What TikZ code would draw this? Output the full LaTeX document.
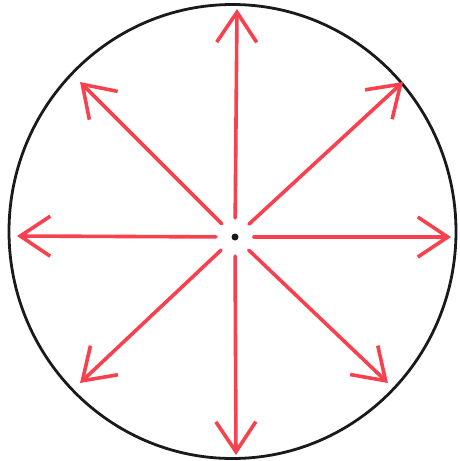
\documentclass[tikz,border=0pt]{standalone}
\usetikzlibrary{arrows.meta}
\definecolor{Ink}{HTML}{1A1A1A}
\definecolor{Pen}{HTML}{F7414E}
\tikzset{
  rim/.style={draw=Ink, line width=2.8pt},
  centre/.style={circle, fill=Ink, minimum size=7pt, inner sep=0pt},
  ray/.style={-{Straight Barb[length=30pt, width=40pt, line width=3.6pt]},
    line width=3.6pt, draw=Pen, shorten <=19pt, line cap=round}
}
\begin{document}
\begin{tikzpicture}[x=1pt,y=-1pt]
    \useasboundingbox (0,0) rectangle (459,461);
    \draw[rim] (232.5,231.5) ellipse [x radius=223.5, y radius=227];
    \node[centre] (o) at (235,237) {};
    \coordinate (n) at (237,9);
    \coordinate (s) at (236,455);
    \coordinate (w) at (17,236);
    \coordinate (e) at (451,237);
    \coordinate (nw) at (80,82);
    \coordinate (ne) at (403,82);
    \coordinate (sw) at (80,383);
    \coordinate (se) at (388,383);
    \draw[ray] (o.center)--(n);
    \draw[ray] (o.center)--(s);
    \draw[ray] (o.center)--(w);
    \draw[ray] (o.center)--(e);
    \draw[ray] (o.center)--(nw);
    \draw[ray] (o.center)--(ne);
    \draw[ray] (o.center)--(sw);
    \draw[ray] (o.center)--(se);
\end{tikzpicture}
\end{document}
